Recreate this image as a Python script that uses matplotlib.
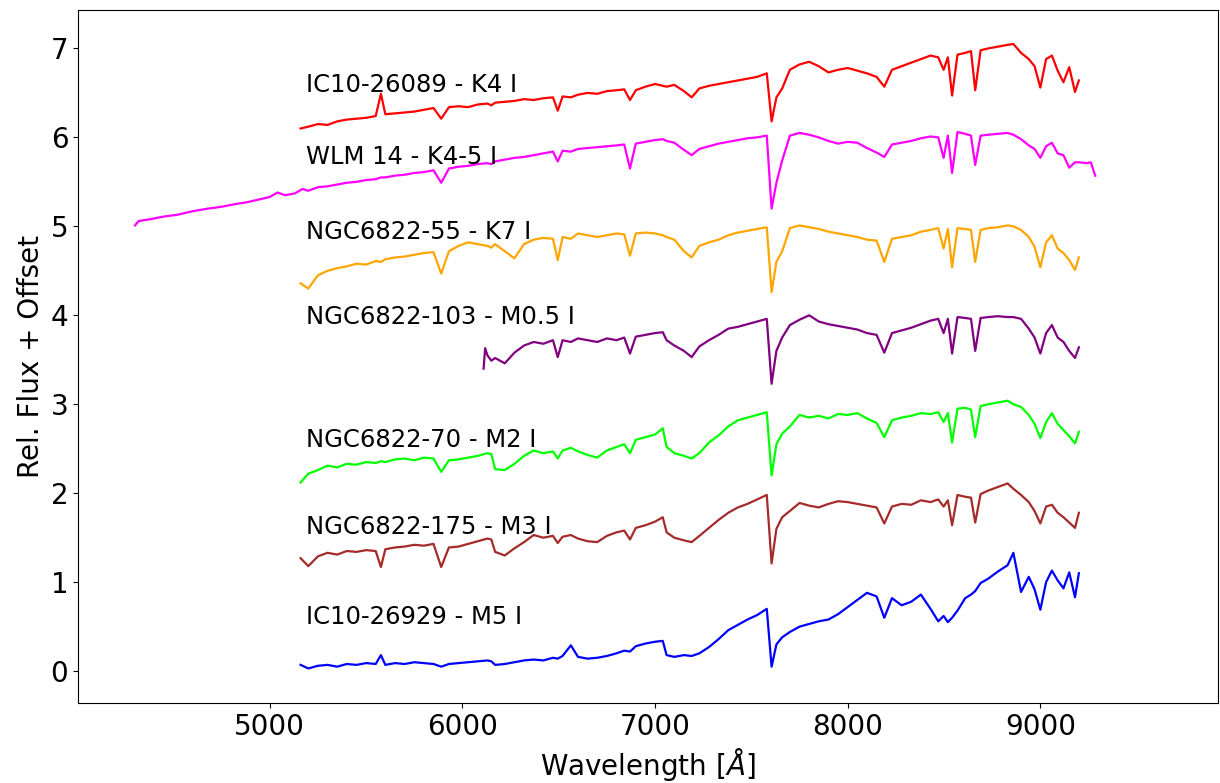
import numpy as np
import matplotlib
matplotlib.use("Agg")
import matplotlib.pyplot as plt

# common wavelength grid [Angstrom] shared by the 5160-9200 spectra
wl_common = np.array([
    5160, 5200, 5250, 5300, 5350, 5400, 5450, 5500, 5550, 5577,
    5600, 5650, 5700, 5750, 5800, 5850, 5890, 5930, 5980, 6030,
    6080, 6130, 6150, 6170, 6220, 6270, 6320, 6370, 6420, 6470,
    6495, 6520, 6563, 6600, 6650, 6700, 6750, 6800, 6840, 6870,
    6900, 6950, 7000, 7040, 7060, 7100, 7150, 7190, 7230, 7280,
    7330, 7380, 7430, 7480, 7530, 7580, 7605, 7630, 7660, 7700,
    7750, 7800, 7850, 7900, 7950, 8000, 8050, 8100, 8150, 8190,
    8230, 8280, 8330, 8380, 8430, 8470, 8498, 8520, 8542, 8570,
    8610, 8640, 8662, 8690, 8730, 8780, 8830, 8860, 8900, 8940,
    8970, 9000, 9030, 9060, 9090, 9120, 9150, 9180, 9200])

# IC10-26089 - K4 I
flux_k4 = [
    6.10, 6.12, 6.15, 6.14, 6.18, 6.20, 6.21, 6.22, 6.24, 6.49,
    6.26, 6.27, 6.28, 6.29, 6.31, 6.33, 6.21, 6.34, 6.35, 6.34,
    6.37, 6.38, 6.36, 6.39, 6.40, 6.41, 6.43, 6.42, 6.44, 6.45,
    6.30, 6.46, 6.45, 6.48, 6.50, 6.49, 6.52, 6.53, 6.54, 6.42,
    6.53, 6.57, 6.60, 6.58, 6.57, 6.59, 6.52, 6.45, 6.55, 6.58,
    6.60, 6.62, 6.64, 6.66, 6.68, 6.72, 6.18, 6.45, 6.55, 6.76,
    6.82, 6.85, 6.80, 6.73, 6.76, 6.78, 6.75, 6.72, 6.68, 6.57,
    6.76, 6.80, 6.84, 6.88, 6.92, 6.90, 6.76, 6.90, 6.47, 6.93,
    6.95, 6.97, 6.53, 6.98, 7.00, 7.02, 7.04, 7.05, 6.95, 6.88,
    6.80, 6.56, 6.88, 6.92, 6.75, 6.62, 6.79, 6.51, 6.64]

# WLM 14 - K4-5 I (extends further blue and red)
wl_wlm_blue = [4300, 4320, 4380, 4450, 4520, 4600, 4680, 4750, 4820, 4880,
               4940, 5000, 5040, 5080, 5130, 5170, 5200]
flux_wlm_blue = [5.01, 5.06, 5.08, 5.11, 5.13, 5.17, 5.20, 5.22, 5.25, 5.27,
                 5.30, 5.33, 5.38, 5.35, 5.37, 5.42, 5.40]
wl_wlm_red = [9240, 9262, 9285]
flux_wlm_red = [5.71, 5.72, 5.57]
flux_wlm = [
                5.44, 5.45, 5.47, 5.49, 5.50, 5.52, 5.53, 5.55,
    5.55, 5.57, 5.58, 5.60, 5.61, 5.63, 5.49, 5.65, 5.67, 5.68,
    5.70, 5.71, 5.70, 5.73, 5.75, 5.77, 5.78, 5.80, 5.82, 5.84,
    5.73, 5.85, 5.84, 5.87, 5.88, 5.89, 5.90, 5.91, 5.92, 5.65,
    5.93, 5.95, 5.97, 5.98, 5.96, 5.94, 5.86, 5.80, 5.87, 5.90,
    5.93, 5.95, 5.97, 5.99, 6.00, 6.02, 5.20, 5.49, 5.74, 6.02,
    6.05, 6.03, 6.00, 5.96, 5.93, 5.95, 5.94, 5.88, 5.83, 5.78,
    5.92, 5.94, 5.96, 5.99, 6.01, 6.00, 5.77, 6.02, 5.60, 6.06,
    6.04, 6.02, 5.69, 6.02, 6.03, 6.04, 6.05, 6.03, 5.98, 5.91,
    5.87, 5.77, 5.90, 5.94, 5.82, 5.80, 5.66, 5.72, 5.72]

# NGC6822-55 - K7 I
flux_k7 = [
    4.36, 4.30, 4.45, 4.50, 4.53, 4.55, 4.58, 4.57, 4.61, 4.60,
    4.63, 4.65, 4.66, 4.68, 4.70, 4.71, 4.47, 4.72, 4.78, 4.82,
    4.80, 4.78, 4.76, 4.80, 4.72, 4.64, 4.80, 4.85, 4.87, 4.86,
    4.62, 4.88, 4.86, 4.92, 4.90, 4.88, 4.90, 4.92, 4.91, 4.67,
    4.92, 4.93, 4.92, 4.90, 4.88, 4.85, 4.72, 4.65, 4.78, 4.82,
    4.85, 4.90, 4.93, 4.95, 4.97, 4.99, 4.26, 4.60, 4.72, 4.98,
    5.01, 4.99, 4.97, 4.94, 4.92, 4.90, 4.88, 4.85, 4.84, 4.60,
    4.86, 4.88, 4.90, 4.94, 4.96, 4.98, 4.75, 4.97, 4.54, 4.98,
    4.97, 4.96, 4.60, 4.96, 4.98, 4.99, 5.01, 5.00, 4.96, 4.88,
    4.77, 4.54, 4.82, 4.90, 4.75, 4.70, 4.62, 4.51, 4.65]

# NGC6822-103 - M0.5 I (starts at 6110)
wl_m05_blue = [6110, 6118]
flux_m05_blue = [3.40, 3.63]
flux_m05 = [
                                3.55, 3.49, 3.52, 3.46, 3.58, 3.66, 3.70, 3.68, 3.72,
    3.53, 3.72, 3.70, 3.74, 3.72, 3.70, 3.74, 3.72, 3.75, 3.57,
    3.76, 3.78, 3.80, 3.81, 3.72, 3.66, 3.60, 3.53, 3.65, 3.72,
    3.78, 3.85, 3.87, 3.90, 3.93, 3.96, 3.23, 3.60, 3.75, 3.89,
    3.95, 4.00, 3.93, 3.90, 3.88, 3.86, 3.84, 3.80, 3.78, 3.58,
    3.80, 3.83, 3.86, 3.90, 3.94, 3.96, 3.80, 3.96, 3.57, 3.98,
    3.97, 3.96, 3.60, 3.97, 3.98, 3.99, 3.98, 3.98, 3.96, 3.85,
    3.75, 3.57, 3.80, 3.89, 3.75, 3.70, 3.60, 3.52, 3.64]

# NGC6822-70 - M2 I
flux_m2 = [
    2.12, 2.22, 2.26, 2.31, 2.29, 2.33, 2.32, 2.35, 2.34, 2.36,
    2.35, 2.38, 2.39, 2.37, 2.40, 2.39, 2.24, 2.37, 2.38, 2.40,
    2.42, 2.45, 2.44, 2.27, 2.26, 2.33, 2.42, 2.48, 2.45, 2.47,
    2.39, 2.48, 2.51, 2.47, 2.43, 2.40, 2.48, 2.52, 2.55, 2.45,
    2.60, 2.63, 2.66, 2.73, 2.52, 2.45, 2.42, 2.39, 2.45, 2.57,
    2.65, 2.75, 2.82, 2.85, 2.88, 2.91, 2.20, 2.55, 2.67, 2.75,
    2.88, 2.85, 2.87, 2.84, 2.89, 2.88, 2.90, 2.84, 2.79, 2.63,
    2.82, 2.85, 2.87, 2.90, 2.89, 2.91, 2.80, 2.90, 2.57, 2.95,
    2.96, 2.94, 2.63, 2.98, 3.00, 3.02, 3.04, 3.00, 2.97, 2.88,
    2.78, 2.62, 2.80, 2.90, 2.78, 2.71, 2.64, 2.56, 2.69]

# NGC6822-175 - M3 I
flux_m3 = [
    1.27, 1.18, 1.29, 1.33, 1.31, 1.35, 1.34, 1.36, 1.35, 1.17,
    1.37, 1.39, 1.40, 1.42, 1.41, 1.43, 1.17, 1.39, 1.40, 1.43,
    1.46, 1.49, 1.48, 1.34, 1.30, 1.38, 1.45, 1.53, 1.50, 1.52,
    1.44, 1.51, 1.53, 1.49, 1.46, 1.45, 1.52, 1.56, 1.58, 1.48,
    1.61, 1.64, 1.68, 1.73, 1.56, 1.50, 1.47, 1.45, 1.52, 1.61,
    1.70, 1.78, 1.84, 1.88, 1.93, 1.98, 1.21, 1.60, 1.73, 1.80,
    1.89, 1.86, 1.84, 1.88, 1.91, 1.90, 1.88, 1.86, 1.84, 1.66,
    1.85, 1.88, 1.87, 1.92, 1.90, 1.93, 1.85, 1.92, 1.64, 1.98,
    1.96, 1.95, 1.67, 1.99, 2.03, 2.07, 2.11, 2.05, 1.98, 1.90,
    1.80, 1.66, 1.85, 1.87, 1.78, 1.73, 1.67, 1.61, 1.78]

# IC10-26929 - M5 I
flux_m5 = [
    0.07, 0.03, 0.06, 0.07, 0.05, 0.08, 0.07, 0.09, 0.08, 0.18,
    0.07, 0.09, 0.08, 0.10, 0.09, 0.08, 0.05, 0.08, 0.09, 0.10,
    0.11, 0.12, 0.11, 0.07, 0.08, 0.10, 0.12, 0.13, 0.12, 0.15,
    0.14, 0.17, 0.29, 0.16, 0.14, 0.15, 0.17, 0.20, 0.23, 0.22,
    0.28, 0.31, 0.33, 0.34, 0.18, 0.16, 0.18, 0.17, 0.20, 0.27,
    0.36, 0.46, 0.52, 0.58, 0.63, 0.70, 0.05, 0.30, 0.38, 0.44,
    0.50, 0.53, 0.56, 0.58, 0.64, 0.72, 0.80, 0.88, 0.84, 0.60,
    0.82, 0.74, 0.78, 0.86, 0.70, 0.56, 0.62, 0.55, 0.60, 0.68,
    0.82, 0.86, 0.90, 0.99, 1.04, 1.12, 1.19, 1.33, 0.89, 1.06,
    0.92, 0.69, 1.00, 1.13, 1.02, 0.93, 1.11, 0.83, 1.10]

labels = ["IC10-26089 - K4 I", "WLM 14 - K4-5 I", "NGC6822-55 - K7 I",
          "NGC6822-103 - M0.5 I", "NGC6822-70 - M2 I", "NGC6822-175 - M3 I",
          "IC10-26929 - M5 I"]
label_y = [6.59, 5.78, 4.94, 3.98, 2.60, 1.62, 0.61]
colors = ["red", "magenta", "orange", "purple", "lime", "brown", "blue"]

wl_wlm = np.concatenate([wl_wlm_blue, wl_common[wl_common >= 5250], wl_wlm_red])
fl_wlm = np.concatenate([flux_wlm_blue, flux_wlm, flux_wlm_red])
wl_m05 = np.concatenate([wl_m05_blue, wl_common[wl_common >= 6130]])
fl_m05 = np.concatenate([flux_m05_blue, flux_m05])

spectra = [(wl_common, flux_k4), (wl_wlm, fl_wlm), (wl_common, flux_k7),
           (wl_m05, fl_m05), (wl_common, flux_m2), (wl_common, flux_m3),
           (wl_common, flux_m5)]

plt.rcParams['font.family'] = 'DejaVu Sans'
fig = plt.figure(figsize=(12.2, 7.83), dpi=100)
ax = fig.add_axes([0.064, 0.102, 0.934, 0.885])

for (wl, fl), c, lab, ly in zip(spectra, colors, labels, label_y):
    ax.plot(wl, fl, color=c, lw=1.6)
    ax.text(5190, ly, lab, fontsize=17.5, va='center', ha='left')

ax.set_xlim(4005, 9920)
ax.set_ylim(-0.36, 7.43)
ax.set_xticks([5000, 6000, 7000, 8000, 9000])
ax.set_yticks(range(0, 8))
ax.tick_params(labelsize=20)
ax.set_xlabel(r'Wavelength [$\AA$]', fontsize=20)
ax.set_ylabel('Rel. Flux + Offset', fontsize=20)

fig.savefig('out.png', dpi=100)
